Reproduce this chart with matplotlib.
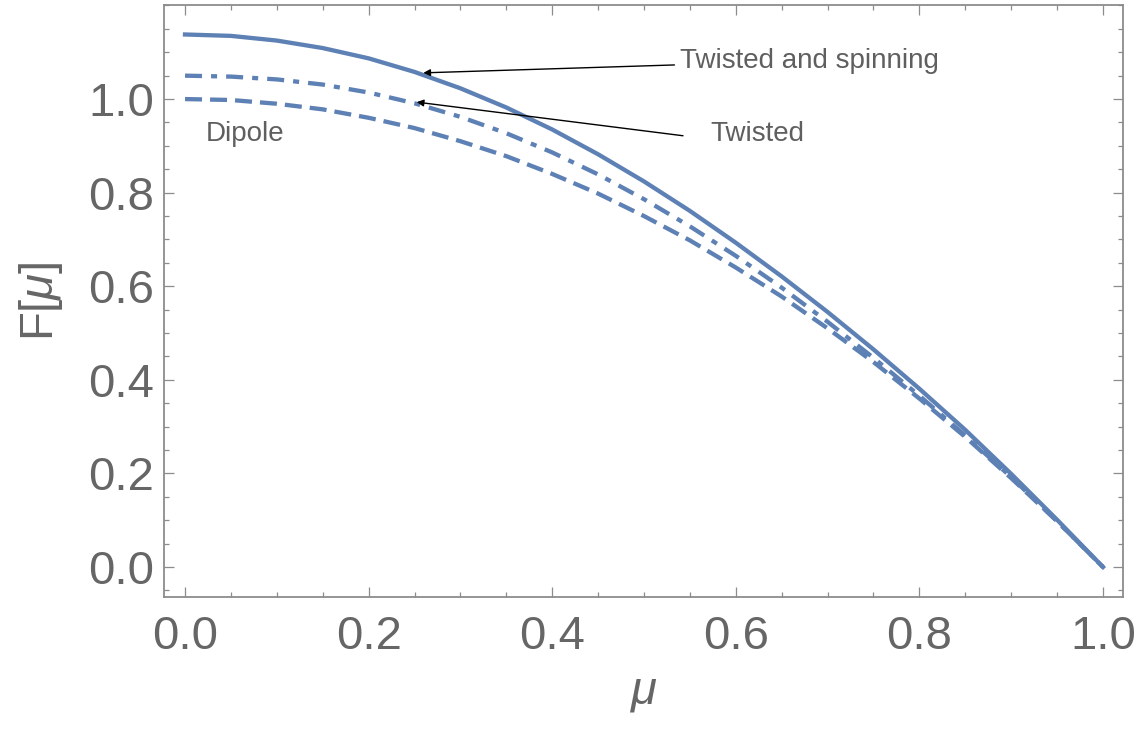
import matplotlib
matplotlib.use("Agg")
import matplotlib.pyplot as plt
from matplotlib.ticker import MultipleLocator

plt.rcParams['font.family'] = ['Liberation Sans', 'DejaVu Sans']
plt.rcParams['mathtext.fontset'] = 'custom'
plt.rcParams['mathtext.rm'] = 'Liberation Sans'
plt.rcParams['mathtext.it'] = 'Liberation Sans:italic'

# ---- data ----
mu = [0.00, 0.05, 0.10, 0.15, 0.20, 0.25, 0.30, 0.35, 0.40, 0.45, 0.50,
      0.55, 0.60, 0.65, 0.70, 0.75, 0.80, 0.85, 0.90, 0.95, 1.00]
f_twisted_spinning = [1.138, 1.135, 1.125, 1.109, 1.087, 1.058, 1.023, 0.982,
                      0.935, 0.882, 0.824, 0.761, 0.693, 0.621, 0.545, 0.465,
                      0.381, 0.293, 0.199, 0.101, 0.000]
f_twisted = [1.050, 1.048, 1.042, 1.031, 1.014, 0.991, 0.962, 0.927, 0.886,
             0.839, 0.786, 0.728, 0.665, 0.597, 0.524, 0.447, 0.366, 0.281,
             0.192, 0.098, 0.000]
f_dipole = [1.000, 0.998, 0.990, 0.978, 0.960, 0.938, 0.910, 0.878, 0.840,
            0.798, 0.750, 0.698, 0.640, 0.578, 0.510, 0.438, 0.360, 0.278,
            0.190, 0.098, 0.000]
x_ticks = [0.0, 0.2, 0.4, 0.6, 0.8, 1.0]
y_ticks = [0.0, 0.2, 0.4, 0.6, 0.8, 1.0]

color = '#5E81B5'
frame_col = '#8c8c8c'
text_col = '#5f5f5f'

fig = plt.figure(figsize=(11.45, 7.39), dpi=100)
ax = fig.add_axes([164/1145, 1-597/739, (1123-164)/1145, (597-5)/739])

lw = 3.1
ax.plot(mu, f_dipole, color=color, lw=lw, linestyle=(0, (3.95, 1.86)))
ax.plot(mu, f_twisted, color=color, lw=lw, linestyle=(0, (3.95, 2.1, 1.4, 2.1)))
ax.plot(mu, f_twisted_spinning, color=color, lw=lw, linestyle='-')

ax.set_xlim(-0.0229, 1.0218)
ax.set_ylim(-0.064, 1.201)
ax.set_xticks(x_ticks)
ax.set_yticks(y_ticks)
ax.set_xticklabels([f"{v:.1f}" for v in x_ticks])
ax.set_yticklabels([f"{v:.1f}" for v in y_ticks])
ax.xaxis.set_minor_locator(MultipleLocator(0.05))
ax.yaxis.set_minor_locator(MultipleLocator(0.05))

ax.tick_params(axis='both', which='both', direction='in', top=True, right=True,
               color=frame_col, width=0.9)
ax.tick_params(axis='both', which='major', length=7.2, labelsize=34,
               labelcolor='#666666')
ax.tick_params(axis='both', which='minor', length=3.6)
ax.tick_params(axis='x', which='major', pad=13)
ax.tick_params(axis='y', which='major', pad=7)
for s in ax.spines.values():
    s.set_color(frame_col)
    s.set_linewidth(1.3)

ax.set_xlabel(r"$\mu$", fontsize=34, color='#666666', labelpad=8)
ax.set_ylabel(r"F[$\mu$]", fontsize=34, color='#666666', labelpad=17)

# annotations
ax.annotate("Twisted and spinning", xy=(0.2596, 1.056), xytext=(0.5392, 1.0820),
            fontsize=20, color=text_col, va='center', ha='left',
            arrowprops=dict(arrowstyle='-|>', color='black', lw=1.0,
                            shrinkA=2, shrinkB=0, mutation_scale=10))
ax.annotate("", xy=(0.2524, 0.9935), xytext=(0.5425, 0.9216),
            arrowprops=dict(arrowstyle='-|>', color='black', lw=1.0,
                            shrinkA=0, shrinkB=0, mutation_scale=10))
ax.text(0.572, 0.925, "Twisted", fontsize=20, color=text_col, va='center', ha='left')
ax.text(0.0229, 0.925, "Dipole", fontsize=20, color=text_col, va='center', ha='left')

fig.savefig("out.png", dpi=100)
